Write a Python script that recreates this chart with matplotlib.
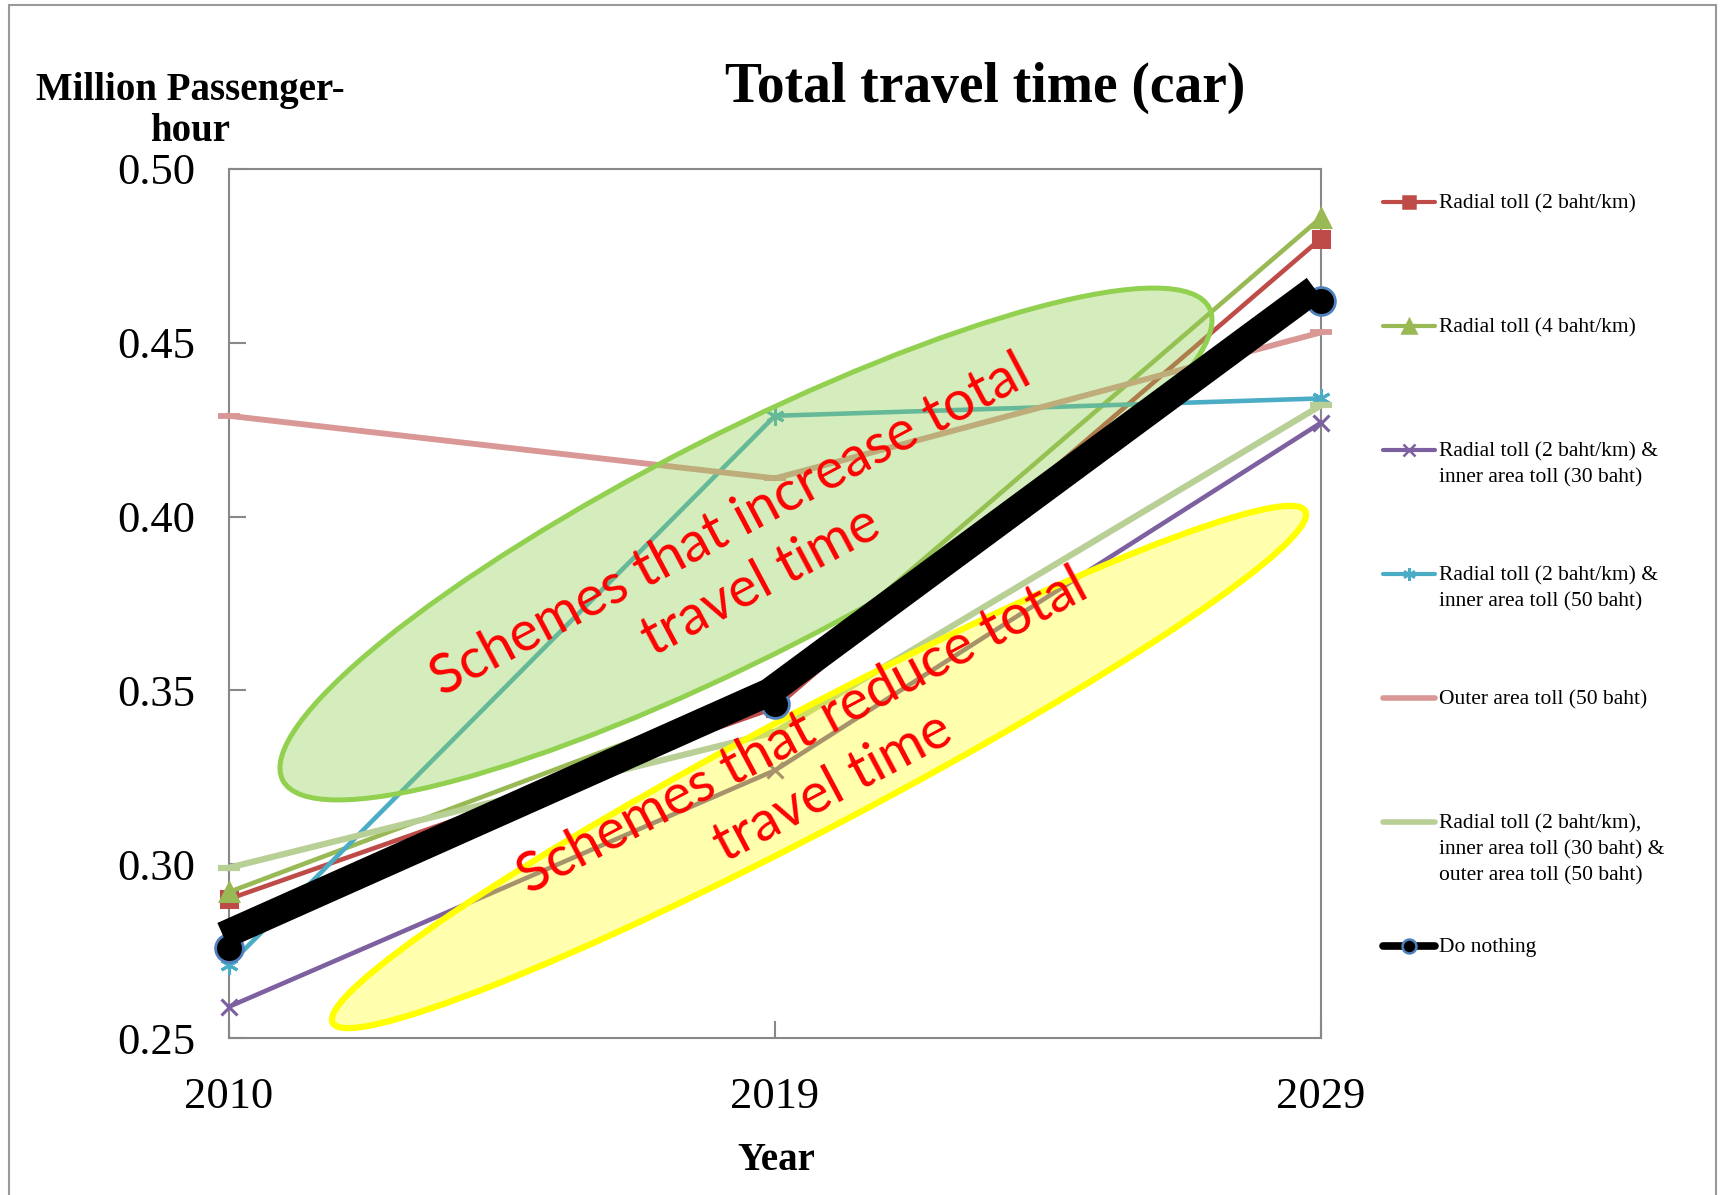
import matplotlib.pyplot as plt
from matplotlib.patches import Ellipse, Rectangle
from matplotlib.lines import Line2D
from matplotlib.transforms import offset_copy
from matplotlib.ticker import FormatStrFormatter

plt.rcParams['font.family'] = ['Liberation Serif', 'DejaVu Serif']

# data (million passenger-hours)
years = ['2010', '2019', '2029']
radial_2 = [0.290, 0.345, 0.480]
radial_4 = [0.292, 0.351, 0.486]
radial_2_inner_30 = [0.259, 0.327, 0.427]
radial_2_inner_50 = [0.271, 0.429, 0.434]
outer_50 = [0.429, 0.411, 0.453]
radial_inner_outer = [0.299, 0.338, 0.432]
do_nothing = [0.276, 0.346, 0.462]

labels = ['Radial toll (2 baht/km)',
          'Radial toll (4 baht/km)',
          'Radial toll (2 baht/km) &\ninner area toll (30 baht)',
          'Radial toll (2 baht/km) &\ninner area toll (50 baht)',
          'Outer area toll (50 baht)',
          'Radial toll (2 baht/km),\ninner area toll (30 baht) &\nouter area toll (50 baht)',
          'Do nothing']

values = [radial_2, radial_4, radial_2_inner_30, radial_2_inner_50, outer_50, radial_inner_outer]
colors = ['#BE4B48', '#98B954', '#7D60A0', '#4BACC6', '#D99795', '#B8CF95']
markers = ['s', '^', 'x', (6, 2, 0), '_', '_']
msizes = [12, 13, 12, 13, 16, 16]
lwidths = [3.3, 3.3, 3.3, 3.3, 4.2, 4.5]
leg_ms = [9, 10, 9, 9, 0, 0]

W, H = 1721, 1195
fig = plt.figure(figsize=(W / 100, H / 100), dpi=100)
ax = fig.add_axes([229 / W, 1 - 1038 / H, (1321 - 229) / W, (1038 - 169) / H])
inch = fig.dpi_scale_trans

x = list(range(len(years)))
for vals, c, m, ms, lw in zip(values, colors, markers, msizes, lwidths):
    ax.plot(x, vals, color=c, lw=lw, marker=m, ms=ms, mec=c, mfc=c,
            mew=2.2 if m != '_' else lw, clip_on=False, zorder=3)

# do nothing: markers, then the heavy black line (slightly offset like the original)
ax.plot(x, do_nothing, ls='none', marker='o', ms=20, mfc='black', mec='#4F81BD',
        mew=2, clip_on=False, zorder=4.5)
ax.plot(x, do_nothing, color='black', lw=20, solid_joinstyle='miter',
        solid_capstyle='butt', clip_on=False, zorder=5,
        transform=offset_copy(ax.transData, fig=fig, x=-6, y=12, units='dots'))

# highlight ellipses
green = Ellipse((746 / 100, (H - 544) / 100), 10.40, 2.22, angle=27, transform=inch,
                facecolor=(0.573, 0.816, 0.314, 0.38), edgecolor='#92D050', lw=3.6, zorder=4)
yellow = Ellipse((819 / 100, (H - 767) / 100), 10.99, 1.18, angle=27.75, transform=inch,
                 facecolor=(1, 1, 0, 0.32), edgecolor='#FFFF00', lw=4.5, zorder=4)
for e in (green, yellow):
    ax.add_patch(e)
    e.set_clip_on(False)

ax.text(746 / 100, (H - 554) / 100, 'Schemes that increase total\ntravel time', transform=inch,
        rotation=28, rotation_mode='anchor', ha='center', va='center', multialignment='center',
        color='red', fontsize=40, family=['Lato', 'DejaVu Sans'], linespacing=1.3, zorder=7)
ax.text(818 / 100, (H - 760) / 100, 'Schemes that reduce total\ntravel time', transform=inch,
        rotation=28, rotation_mode='anchor', ha='center', va='center', multialignment='center',
        color='red', fontsize=40, family=['Lato', 'DejaVu Sans'], linespacing=1.3, zorder=7)

ax.set_xlim(0, 2)
ax.set_ylim(0.25, 0.50)
ax.set_xticks(x)
ax.set_xticklabels(years)
ax.set_yticks([0.25, 0.30, 0.35, 0.40, 0.45, 0.50])
ax.yaxis.set_major_formatter(FormatStrFormatter('%.2f'))
ax.tick_params(direction='in', length=12, width=1.5, color='#888888', labelsize=32)
ax.tick_params(axis='y', pad=24)
ax.tick_params(axis='x', pad=28)
for s in ax.spines.values():
    s.set_color('#888888')
    s.set_linewidth(1.5)

fig.text(985 / W, 1 - 88 / H, 'Total travel time (car)', fontsize=40, fontweight='bold',
         ha='center', va='center')
fig.text(190 / W, 1 - 111 / H, 'Million Passenger-\nhour', fontsize=28, fontweight='bold',
         ha='center', va='center', multialignment='center', linespacing=1.17)
fig.text(776 / W, 1 - 1160 / H, 'Year', fontsize=28, fontweight='bold', ha='center', va='center')

# legend, drawn entry by entry (Excel style: handle aligned with first text line)
leg_colors = colors + ['black']
leg_markers = markers[:4] + [None, None, 'o']
leg_lw = [3, 3, 3, 3, 4, 4, 5.5]
leg_sizes = leg_ms + [10]
for i, lab in enumerate(labels):
    yc = 1 - (202 + i * 124) / H
    fig.add_artist(Line2D([1383 / W, 1435 / W], [yc, yc], color=leg_colors[i], lw=leg_lw[i],
                          transform=fig.transFigure, solid_capstyle='round'))
    if leg_markers[i] is not None:
        mec = '#4F81BD' if leg_markers[i] == 'o' else leg_colors[i]
        fig.add_artist(Line2D([1409 / W], [yc], ls='none', marker=leg_markers[i],
                              ms=leg_sizes[i], mfc=leg_colors[i], mec=mec, mew=1.8,
                              transform=fig.transFigure))
    for j, line in enumerate(lab.split('\n')):
        fig.text(1439 / W, 1 - (202 + i * 124 + 6 + j * 26) / H, line, fontsize=15.5,
                 va='baseline')

# outer chart frame
fig.add_artist(Rectangle((9 / 100, -0.2), (1716 - 9) / 100, (H - 5) / 100 + 0.2, transform=inch,
                         fill=False, ec='#999999', lw=1.5))

fig.savefig('out.png', dpi=100)
